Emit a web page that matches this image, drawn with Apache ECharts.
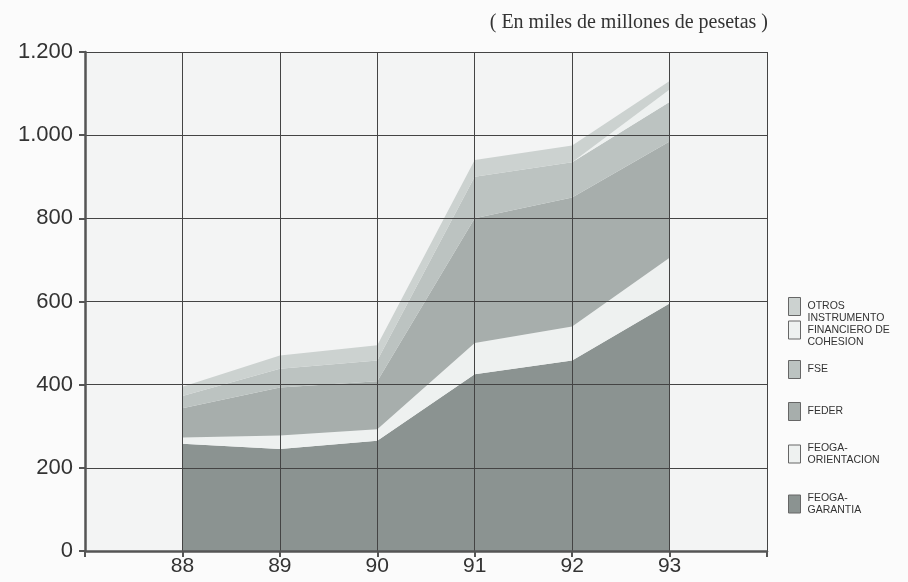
<!DOCTYPE html>
<html>
<head>
<meta charset="utf-8">
<script src="https://cdn.jsdelivr.net/npm/echarts@6/dist/echarts.min.js"></script>
<style>
html,body{margin:0;padding:0;background:#fbfbfb;}
#c{width:908px;height:582px;}
</style>
</head>
<body>
<div id="c"></div>
<script>
const axisYears = ['87', '88', '89', '90', '91', '92', '93', '94'];
const years = ['88', '89', '90', '91', '92', '93'];
const garantia = [258, 245, 265, 425, 458, 595];
const orientacion = [15, 33, 28, 75, 82, 110];
const feder = [70, 115, 115, 300, 310, 280];
const fse = [30, 45, 50, 100, 85, 95];
const cohesion = [0, 0, 0, 0, 0, 30];
const otros = [22, 32, 37, 40, 40, 20];
const yTicks = [0, 200, 400, 600, 800, 1000, 1200];

const names = {
  otros: 'OTROS',
  cohesion: 'INSTRUMENTO\nFINANCIERO DE\nCOHESION',
  fse: 'FSE',
  feder: 'FEDER',
  orient: 'FEOGA-\nORIENTACION',
  garantia: 'FEOGA-\nGARANTIA'
};
const colors = {
  garantia: '#8b9391',
  orient: '#eef1f0',
  feder: '#a7aeac',
  fse: '#bcc3c1',
  cohesion: '#eef1f0',
  otros: '#ccd2d0'
};

function mk(key, vals) {
  return {
    name: names[key],
    type: 'line',
    stack: 'total',
    symbol: 'none',
    connectNulls: false,
    lineStyle: { width: 0 },
    itemStyle: { color: colors[key] },
    areaStyle: { color: colors[key], opacity: 1 },
    data: axisYears.map(y => {
      const i = years.indexOf(y);
      return i >= 0 ? vals[i] : '-';
    })
  };
}

const legendPos = [
  ['otros', 292],
  ['cohesion', 307],
  ['fse', 355],
  ['feder', 397],
  ['orient', 437],
  ['garantia', 487]
];

const chart = echarts.init(document.getElementById('c'), null, { renderer: 'canvas' });
chart.setOption({
  backgroundColor: '#fbfbfb',
  animation: false,
  title: {
    text: '( En miles de millones de pesetas )',
    right: 135, top: 8,
    textStyle: { fontFamily: 'Liberation Serif', fontSize: 20, fontWeight: 'normal', color: '#333' }
  },
  grid: { left: 85, right: 141, top: 52, bottom: 31, show: true, backgroundColor: '#f3f4f4', borderWidth: 0 },
  legend: legendPos.map(([k, top]) => ({
    left: 783, top: top, orient: 'vertical',
    itemWidth: 12, itemHeight: 18, itemGap: 0,
    selectedMode: false,
    textStyle: { fontFamily: 'Liberation Sans', fontSize: 10.5, lineHeight: 12, color: '#333', padding: [0, 0, 0, 2] },
    data: [{ name: names[k], icon: 'rect', itemStyle: { color: colors[k], borderColor: '#666', borderWidth: 1 } }]
  })),
  xAxis: {
    type: 'category', data: axisYears, boundaryGap: false, z: 10,
    axisLine: { show: true, lineStyle: { color: '#555', width: 2.5 } },
    axisTick: { show: true, length: 6, lineStyle: { color: '#555', width: 2 } },
    axisLabel: {
      fontFamily: 'Liberation Sans', fontSize: 21, color: '#333', margin: 5,
      formatter: v => years.indexOf(v) >= 0 ? v : ''
    },
    splitLine: { show: true, lineStyle: { color: '#444', width: 1 } }
  },
  yAxis: {
    type: 'value', min: 0, max: 1200, interval: 200, z: 10,
    axisLine: { show: true, lineStyle: { color: '#555', width: 2.5 } },
    axisTick: { show: true, length: 6, lineStyle: { color: '#555', width: 2 } },
    axisLabel: {
      fontFamily: 'Liberation Sans', fontSize: 22, color: '#333', margin: 12,
      formatter: v => yTicks.indexOf(v) >= 0 ? (v >= 1000 ? String(v).replace(/(\d)(\d{3})$/, '$1.$2') : String(v)) : ''
    },
    splitLine: { show: true, lineStyle: { color: '#444', width: 1 } }
  },
  series: [
    mk('garantia', garantia),
    mk('orient', orientacion),
    mk('feder', feder),
    mk('fse', fse),
    mk('cohesion', cohesion),
    mk('otros', otros)
  ]
});
</script>
</body>
</html>
